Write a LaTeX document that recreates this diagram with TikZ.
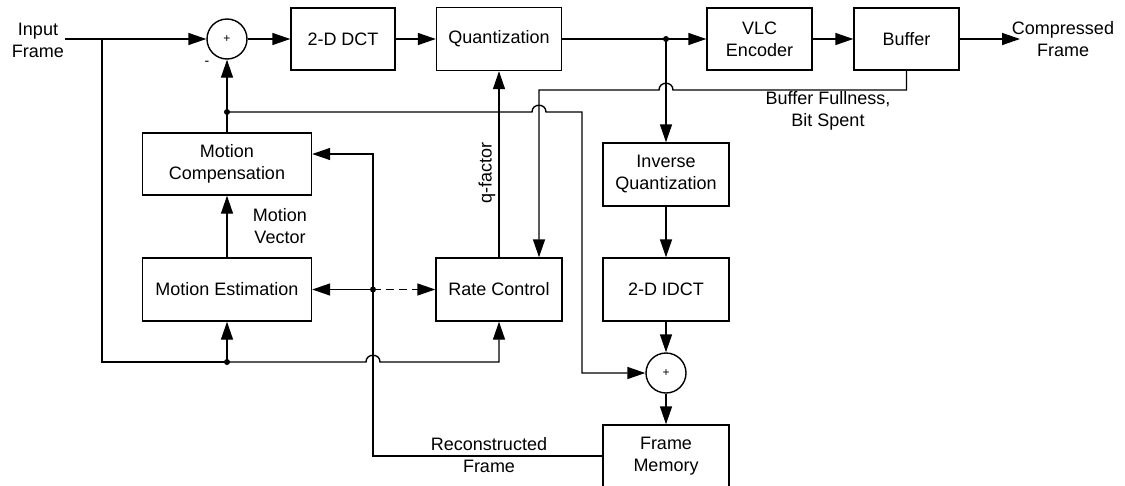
\documentclass[tikz,border=0pt]{standalone}
\usepackage{fontspec}
\setmainfont{Liberation Sans}
\usetikzlibrary{arrows.meta}
\begin{document}
\begin{tikzpicture}[x=1pt,y=-1pt,
  line width=1.4pt,
  blk/.style={draw, rectangle, inner sep=0pt, align=center, font=\fontsize{18}{22}\selectfont},
  sumc/.style={draw, circle, minimum size=40pt, inner sep=0pt, font=\fontsize{12}{14}\selectfont},
  lbl/.style={inner sep=0pt, align=center, font=\fontsize{18}{22}\selectfont},
  arr/.style={-{Triangle[length=18pt,width=12pt]}},
  dashline/.style={dash pattern=on 8pt off 5pt},
  jdot/.style={circle, fill, inner sep=0pt, minimum size=6pt}
]
\useasboundingbox (0,0) rectangle (1125,485);

% blocks
\node[lbl] (inp) at (38,40) {Input\\Frame};
\node[sumc] (s1) at (227,39) {+};
\node[inner sep=0pt, font=\fontsize{14}{14}\selectfont] (minus) at (207,63) {-};
\node[blk, minimum width=104pt, minimum height=62pt] (dct) at (343,39) {2-D DCT};
\node[blk, minimum width=125pt, minimum height=63pt] (q) at (499,39) {Quantization};
\node[blk, minimum width=105pt, minimum height=62pt] (vlc) at (759.5,39) {VLC\\Encoder};
\node[blk, minimum width=105pt, minimum height=62pt] (buf) at (906.5,39) {Buffer};
\node[lbl] (out) at (1063,39) {Compressed\\Frame};
\node[blk, minimum width=169pt, minimum height=62pt] (mc) at (227,164) {Motion\\Compensation};
\node[blk, minimum width=169pt, minimum height=63pt] (me) at (227,289.5) {Motion Estimation};
\node[blk, minimum width=126pt, minimum height=63pt] (rc) at (499,289.5) {Rate Control};
\node[blk, minimum width=126pt, minimum height=63pt] (iq) at (666,174.5) {Inverse\\Quantization};
\node[blk, minimum width=126pt, minimum height=63pt] (idct) at (666,289.5) {2-D IDCT};
\node[sumc] (s2) at (666,373) {+};
\node[blk, minimum width=126pt, minimum height=62pt] (fm) at (666,456) {Frame\\Memory};

% labels
\node[lbl] (mv) at (280,226.5) {Motion\\Vector};
\node[lbl] (bfl) at (828,110.5) {Buffer Fullness,\\Bit Spent};
\node[lbl] (rfl) at (489,455) {Reconstructed\\Frame};
\node[lbl, rotate=90] (qf) at (487,173) {q-factor};

% junctions
\coordinate (jIn) at (102,39);
\coordinate (jQ) at (666,39);
\coordinate (jMC) at (227,112);
\coordinate (jB) at (227,362);
\coordinate (jR) at (373,289.5);
\coordinate (cM) at (582,112);
\coordinate (cB) at (539,90);
\coordinate (cMC) at (373,154);
\coordinate (outTip) at (1020,39);
\node[jdot] at (jQ) {};
\node[jdot] at (jMC) {};
\node[jdot] at (jB) {};
\node[jdot] at (jR) {};

% forward path
\draw[arr] (inp.east |- s1.west) -- (s1);
\draw[arr] (s1) -- (dct);
\draw[arr] (dct) -- (q);
\draw (q) -- (jQ);
\draw[arr] (jQ) -- (vlc);
\draw[arr] (vlc) -- (buf);
\draw[arr] (buf) -- (outTip);
\draw[arr] (jQ) -- (iq);
\draw[arr] (iq) -- (idct);
\draw[arr] (idct) -- (s2);
\draw[arr] (s2) -- (fm);

% buffer feedback
\draw[arr] (buf.south) -- (buf.south |- cB) -- (673,90)
  .. controls (673,81) and (659,81) .. (659,90) -- (cB) -- (cB |- rc.north);

% q-factor
\draw[arr] (rc) -- (q);

% motion compensation output
\draw[arr] (mc) -- (s1);
\draw[arr] (jMC) -- (532,112) .. controls (532,103) and (546,103) .. (546,112)
  -- (cM) |- (s2);

% input to motion estimation and rate control
\draw (jIn) |- (jB);
\draw[arr] (jB) -- (me);
\draw[arr] (jB) -- (366,362) .. controls (366,353) and (380,353) .. (380,362) -| (rc);

% motion vector
\draw[arr] (me) -- (mc);

% reconstructed frame
\draw (fm.west) -| (jR);
\draw[arr] (jR) -- (me);
\draw[arr, dashline] (jR) -- (rc);
\draw[arr] (jR) -- (cMC) -- (cMC -| mc.east);
\end{tikzpicture}
\end{document}
